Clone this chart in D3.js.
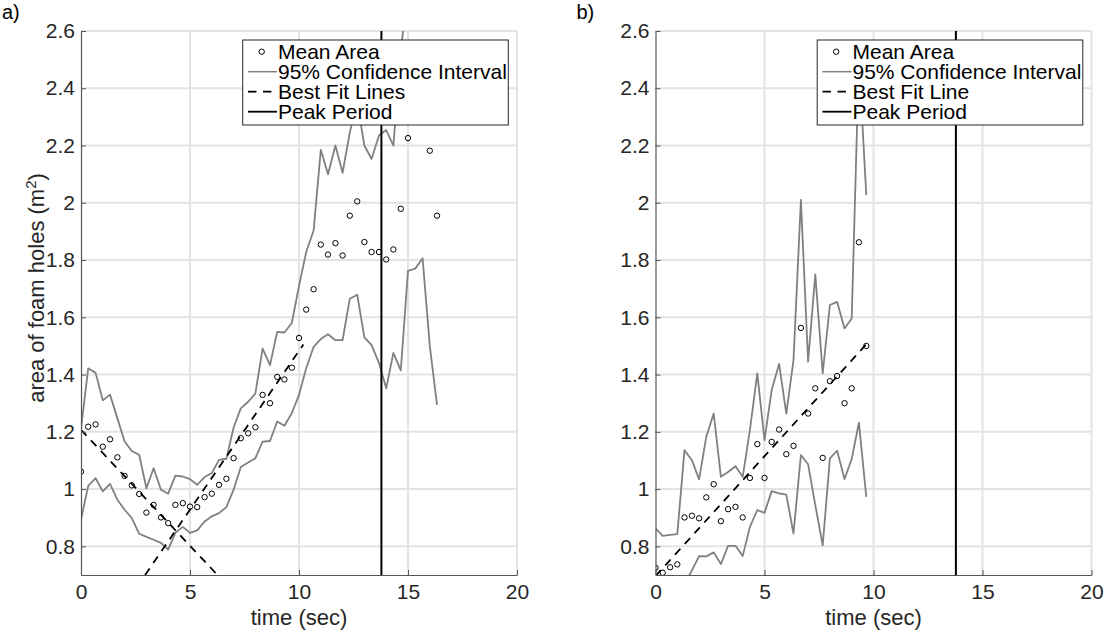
<!DOCTYPE html>
<html><head><meta charset="utf-8">
<script src="https://cdn.jsdelivr.net/npm/d3@7"></script>
<style>
html,body{margin:0;padding:0;background:#fff;}
svg text{font-family:"Liberation Sans",Arial,Helvetica,sans-serif;}
</style></head>
<body>
<svg id="chart" width="1108" height="633"></svg>
<script>
// ---------------- data ----------------
const timeA = [0,0.33,0.67,1,1.33,1.67,2,2.33,2.67,3,3.33,3.67,4,4.33,4.67,5,5.33,5.67,6,6.33,6.67,7,7.33,7.67,8,8.33,8.67,9,9.33,9.67,10,10.33,10.67,11,11.33,11.67,12,12.33,12.67,13,13.33,13.67,14,14.33,14.67,15,15.33,15.67,16,16.33];
const meanA = [1.061,1.218,1.226,1.148,1.174,1.111,1.046,1.013,0.983,0.918,0.945,0.901,0.881,0.945,0.951,0.939,0.937,0.972,0.984,1.015,1.036,1.108,1.178,1.195,1.216,1.329,1.300,1.392,1.383,1.424,1.528,1.627,1.698,1.854,1.819,1.859,1.816,1.955,2.005,1.863,1.828,1.828,1.802,1.837,1.979,2.226,null,null,2.182,1.955];
const upperA = [1.21,1.422,1.406,1.31,1.33,1.247,1.166,1.133,1.12,1.003,1.073,0.998,0.984,1.047,1.044,1.035,1.015,1.042,1.056,1.102,1.106,1.215,1.282,1.305,1.334,1.491,1.433,1.549,1.547,1.58,1.71,1.828,1.903,2.185,2.10,2.2,2.105,2.246,2.35,2.2,2.153,2.235,2.254,2.2,2.53,2.75,null,null,null,null];
const lowerA = [0.893,1.011,1.038,0.992,1.018,0.963,0.928,0.899,0.844,0.833,0.823,0.812,0.789,0.847,0.868,0.847,0.856,0.887,0.905,0.916,0.937,0.998,1.077,1.093,1.108,1.166,1.168,1.236,1.221,1.265,1.329,1.422,1.497,1.524,1.541,1.52,1.52,1.665,1.679,1.53,1.503,1.44,1.352,1.476,1.415,1.762,1.77,1.806,1.50,1.294];
// best fit lines (start time, start value, end time, end value)
const fitA = [[0,1.207,6.26,0.70],[2.94,0.70,10.2,1.505]];
const peakA = 13.78;

const timeB = [0,0.33,0.67,1,1.33,1.67,2,2.33,2.67,3,3.33,3.67,4,4.33,4.67,5,5.33,5.67,6,6.33,6.67,7,7.33,7.67,8,8.33,8.67,9,9.33,9.67];
const meanB = [0.725,0.708,0.727,0.737,0.901,0.907,0.898,0.971,1.017,0.888,0.930,0.938,0.901,1.039,1.157,1.039,1.165,1.208,1.122,1.151,1.563,1.264,1.352,1.109,1.377,1.395,1.300,1.352,1.862,1.500];
const upperB = [0.863,0.837,0.84,0.843,1.136,1.101,1.034,1.183,1.264,1.043,1.06,1.08,1.043,1.206,1.404,1.171,1.346,1.437,1.264,1.45,2.01,1.445,1.75,1.404,1.643,1.654,1.561,1.596,2.5,2.027];
const lowerB = [null,null,null,null,0.668,0.716,0.766,0.765,0.779,0.738,0.802,0.802,0.766,0.868,0.927,0.917,0.993,0.985,0.981,0.845,1.119,1.087,0.944,0.804,1.107,1.134,1.035,1.105,1.232,0.973];
const fitB = [[0,0.696,9.67,1.506]];
const peakB = 13.78;

const xTicks = [0,5,10,15,20];
const yTicks = [0.8,1,1.2,1.4,1.6,1.8,2,2.2,2.4,2.6];
const xDomain = [0,20];
const yDomain = [0.7,2.6];
const legendA = ["Mean Area","95% Confidence Interval","Best Fit Lines","Peak Period"];
const legendB = ["Mean Area","95% Confidence Interval","Best Fit Line","Peak Period"];

// ---------------- drawing ----------------
const svg = d3.select("#chart");
const TXT = "#262626";

function panel(id, left, label, time, mean, upper, lower, fits, peak, legendLabels, showYLabel){
  const right = left + 436, top = 31, bottom = 575;
  const x = d3.scaleLinear().domain(xDomain).range([left, right]);
  const y = d3.scaleLinear().domain(yDomain).range([bottom, top]);
  const g = svg.append("g");

  // grid
  g.append("g").selectAll("line").data(xTicks.filter(v=>v>0)).join("line")
    .attr("x1", d=>x(d)).attr("x2", d=>x(d)).attr("y1", top).attr("y2", bottom)
    .attr("stroke", "#e3e3e3").attr("stroke-width", 2);
  g.append("g").selectAll("line").data(yTicks).join("line")
    .attr("x1", left).attr("x2", right).attr("y1", d=>y(d)).attr("y2", d=>y(d))
    .attr("stroke", "#e3e3e3").attr("stroke-width", 2);

  // clip
  svg.append("clipPath").attr("id", "clip"+id).append("rect")
    .attr("x", left).attr("y", top).attr("width", right-left).attr("height", bottom-top);
  const pg = g.append("g").attr("clip-path", `url(#clip${id})`);

  const line = d3.line().defined(d=>d[1]!==null).x(d=>x(d[0])).y(d=>y(d[1]));
  [upper, lower].forEach(arr=>{
    pg.append("path").datum(time.map((t,i)=>[t, arr[i]]))
      .attr("d", line).attr("fill","none").attr("stroke","#808080").attr("stroke-width",1.8)
      .attr("stroke-linejoin","round");
  });
  fits.forEach(f=>{
    pg.append("path").datum([[f[0],f[1]],[f[2],f[3]]])
      .attr("d", line).attr("fill","none").attr("stroke","#000").attr("stroke-width",1.8)
      .attr("stroke-dasharray","8,6.5");
  });
  pg.selectAll("circle").data(time.map((t,i)=>[t, mean[i]]).filter(d=>d[1]!==null)).join("circle")
    .attr("cx", d=>x(d[0])).attr("cy", d=>y(d[1])).attr("r", 2.7)
    .attr("fill","none").attr("stroke","#000").attr("stroke-width",1);
  pg.append("line").attr("x1", x(peak)).attr("x2", x(peak)).attr("y1", top).attr("y2", bottom)
    .attr("stroke","#000").attr("stroke-width",2);

  // axes
  const ax = g.append("g").attr("transform", `translate(0,${bottom})`)
    .call(d3.axisBottom(x).tickValues(xTicks).tickSizeInner(-5).tickSizeOuter(0).tickPadding(9));
  const ay = g.append("g").attr("transform", `translate(${left},0)`)
    .call(d3.axisLeft(y).tickValues(yTicks).tickFormat(d=>String(+d.toFixed(1))).tickSizeInner(-5).tickSizeOuter(0).tickPadding(6));
  [ax, ay].forEach(a=>{
    a.select(".domain").attr("stroke","#555").attr("stroke-width",1.2);
    a.selectAll(".tick line").attr("stroke","#555").attr("stroke-width",1);
    a.selectAll(".tick text").attr("fill",TXT).style("font-size","21px");
  });
  ax.selectAll(".tick text").attr("dy","0.71em");

  // x label
  g.append("text").attr("x", x(10)).attr("y", 625).attr("text-anchor","middle")
    .attr("fill",TXT).style("font-size","22px").text("time (sec)");
  if(showYLabel){
    const t = g.append("text").attr("transform", `translate(44,288) rotate(-90)`)
      .attr("text-anchor","middle").attr("fill",TXT).style("font-size","22px");
    t.append("tspan").text("area of foam holes (m");
    t.append("tspan").attr("dy",-8).style("font-size","15px").text("2");
    t.append("tspan").attr("dy",8).text(")");
  }
  // panel label
  g.append("text").attr("x", left-79).attr("y", 19).attr("fill","#000").style("font-size","20px").text(label);

  // legend
  const lx = left + 161.7, ly = 40, lw = 265.6, lh = 85;
  const lg = g.append("g");
  lg.append("rect").attr("x", lx).attr("y", ly).attr("width", lw).attr("height", lh)
    .attr("fill","#fff").attr("stroke","#262626").attr("stroke-width",1);
  legendLabels.forEach((s,i)=>{
    const cy = ly + 11.7 + i*20;
    lg.append("text").attr("x", lx+35.3).attr("y", cy).attr("dy","0.36em")
      .attr("fill","#000").style("font-size","21px").text(s);
    if(i===0){
      lg.append("circle").attr("cx", lx+19).attr("cy", cy).attr("r",2.7)
        .attr("fill","none").attr("stroke","#000").attr("stroke-width",1);
    } else {
      const seg = lg.append("line").attr("x1", lx+5.3).attr("x2", lx+34.3).attr("y1", cy).attr("y2", cy);
      if(i===1) seg.attr("stroke","#808080").attr("stroke-width",1.5);
      if(i===2) seg.attr("stroke","#000").attr("stroke-width",1.8).attr("stroke-dasharray","8.4,6.6");
      if(i===3) seg.attr("stroke","#000").attr("stroke-width",1.8);
    }
  });
}

panel("a", 81, "a)", timeA, meanA, upperA, lowerA, fitA, peakA, legendA, true);
panel("b", 655.5, "b)", timeB, meanB, upperB, lowerB, fitB, peakB, legendB, false);
</script>
</body></html>
